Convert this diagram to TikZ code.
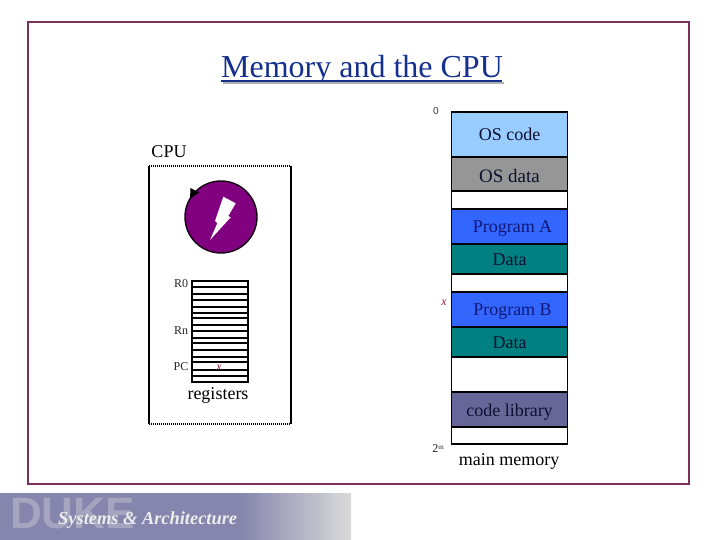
\documentclass[tikz,border=0pt]{standalone}
\usepackage{fontspec}
\setmainfont{Liberation Serif}
\newfontfamily\dukefont{Liberation Sans}
\usetikzlibrary{calc}
\definecolor{frameC}{HTML}{7A2F5C}
\definecolor{titleC}{HTML}{14308F}
\definecolor{oscode}{HTML}{99CCFF}
\definecolor{osdata}{HTML}{969696}
\definecolor{progC}{HTML}{3366FF}
\definecolor{dataC}{HTML}{008080}
\definecolor{libC}{HTML}{666699}
\definecolor{progT}{HTML}{101878}
\definecolor{textC}{HTML}{101030}
\definecolor{purpleC}{HTML}{800080}
\definecolor{redC}{HTML}{902040}
\definecolor{bannerC}{HTML}{8585AD}
\definecolor{bannerE}{HTML}{DADADA}
\definecolor{dukeC}{HTML}{A5A5BF}
\definecolor{sysC}{HTML}{EDEDED}
\tikzset{
  x=1pt,y=-1pt,
  memblock/.style={draw=black,line width=1.6pt,minimum width=116pt,inner sep=0pt,outer sep=0pt,anchor=north west,align=center,text depth=0pt,font=\fontsize{18}{20}\selectfont,text=textC},
  smalllabel/.style={inner sep=0pt,anchor=base,font=\fontsize{12}{14}\selectfont,text=black!85},
  biglabel/.style={inner sep=0pt,anchor=base,font=\fontsize{18}{20}\selectfont,text=black},
  redlabel/.style={inner sep=0pt,anchor=base,font=\itshape\fontsize{12}{13}\selectfont,text=redC},
}
\begin{document}
\begin{tikzpicture}
\useasboundingbox (0,0) rectangle (720,540);
\fill[white] (0,0) rectangle (720,540);
% frame
\node[draw=frameC,line width=2.6pt,outer sep=0pt,minimum width=661pt,minimum height=462pt,inner sep=0pt,anchor=north west] (frame) at (28,22) {};
% title
\node[inner sep=0pt,anchor=base,text=titleC,font=\fontsize{32}{36}\selectfont] (title) at (362,77.7) {Memory and the CPU};
\coordinate (ulL) at (221,81.5);
\coordinate (ulR) at (502,81.5);
\draw[black!30,line width=2pt] ([shift={(1.5,1.5)}]ulL) -- ([shift={(1.5,1.5)}]ulR);
\draw[titleC,line width=2pt] (ulL) -- (ulR);
% memory
\node[memblock,fill=oscode,minimum height=45pt,text height=12.4pt] (oscodeN) at (451.5,112) {OS code};
\node[memblock,fill=osdata,minimum height=34pt,text height=16.6pt,font=\fontsize{19}{21}\selectfont] (osdataN) at (451.5,157) {OS data};
\node[memblock,fill=white,minimum height=18pt] (gapA) at (451.5,191) {};
\node[memblock,fill=progC,minimum height=35pt,text height=12.4pt,text=progT] (progA) at (451.5,209) {\hspace*{6pt}Program A};
\node[memblock,fill=dataC,minimum height=30pt,text height=13.4pt] (dataA) at (451.5,244) {Data};
\node[memblock,fill=white,minimum height=18pt] (gapB) at (451.5,274) {};
\node[memblock,fill=progC,minimum height=35pt,text height=12.4pt,text=progT] (progB) at (451.5,292) {\hspace*{6pt}Program B};
\node[memblock,fill=dataC,minimum height=30pt,text height=12.6pt] (dataB) at (451.5,327) {Data};
\node[memblock,fill=white,minimum height=35pt] (gapC) at (451.5,357) {};
\node[memblock,fill=libC,minimum height=35pt,text height=14.4pt] (lib) at (451.5,392) {code library};
\node[memblock,fill=white,minimum height=17pt] (gapD) at (451.5,427) {};
\node[inner sep=0pt,font=\dukefont\fontsize{10}{12}\selectfont,text=black!80] (zero) at (436,111) {0};
\node[redlabel] (xmem) at (444,305) {x};
\node[smalllabel] (twom) at (438,452) {2\raisebox{3pt}{\fontsize{7}{8}\selectfont m}};
\node[biglabel] (mainmem) at (509,465) {main memory};
% CPU
\node[biglabel] (cpu) at (169,157.3) {CPU};
\node[minimum width=142pt,minimum height=258pt,inner sep=0pt,outer sep=0pt,anchor=north west] (cpubox) at (149,166) {};
\draw[line width=1.4pt] (cpubox.north west) -- (cpubox.south west);
\draw[line width=1.4pt] (cpubox.north east) -- (cpubox.south east);
\draw[line width=1.2pt,dash pattern=on 1pt off 1pt] (cpubox.north west) -- (cpubox.north east);
\draw[line width=1.2pt,dash pattern=on 1pt off 1pt] (cpubox.south west) -- (cpubox.south east);
% clock
\node[circle,draw=black!85!purpleC,line width=1.4pt,outer sep=0pt,fill=purpleC,minimum size=72pt,inner sep=0pt] (clock) at (221,217) {};
\fill[black] (190.5,188) -- (199,192.5) -- (190,199) -- cycle;
\fill[white] (223.3,196.7) -- (235.7,203.3) -- (228.3,216) -- (230.7,217.3) -- (210,240) -- (217.3,223.3) -- (215,221) -- cycle;
% registers
\node[draw=black,line width=1.8pt,outer sep=0pt,minimum width=56pt,minimum height=101pt,inner sep=0pt,anchor=north west] (regs) at (192,281) {};
\foreach \y in {287,294,300,307,313,318,325,331,338,343,350,357,362,370,376}{
  \draw[line width=1.8pt] ($(regs.north west)+(0,\y-281)$) -- ($(regs.north east)+(0,\y-281)$);
}
\node[smalllabel] (r0) at (181,287) {R0};
\node[smalllabel] (rn) at (181,334) {Rn};
\node[smalllabel] (pc) at (181,370.3) {PC};
\node[redlabel] (xreg) at (219,370) {x};
\node[biglabel] (regl) at (218,399.3) {registers};
% banner
\fill[bannerC] (0,493) rectangle (240,540);
\shade[left color=bannerC,right color=bannerE,shading angle=90] (240,493) rectangle (351,540);
\node[inner sep=0pt,anchor=west,text=dukeC,font=\dukefont\bfseries\fontsize{44}{46}\selectfont] (duke) at (10,514) {DUKE};
\node[inner sep=0pt,anchor=west,text=sysC,font=\bfseries\itshape\fontsize{18.4}{20}\selectfont] (sys) at (58,520) {Systems \& Architecture};
\end{tikzpicture}
\end{document}
